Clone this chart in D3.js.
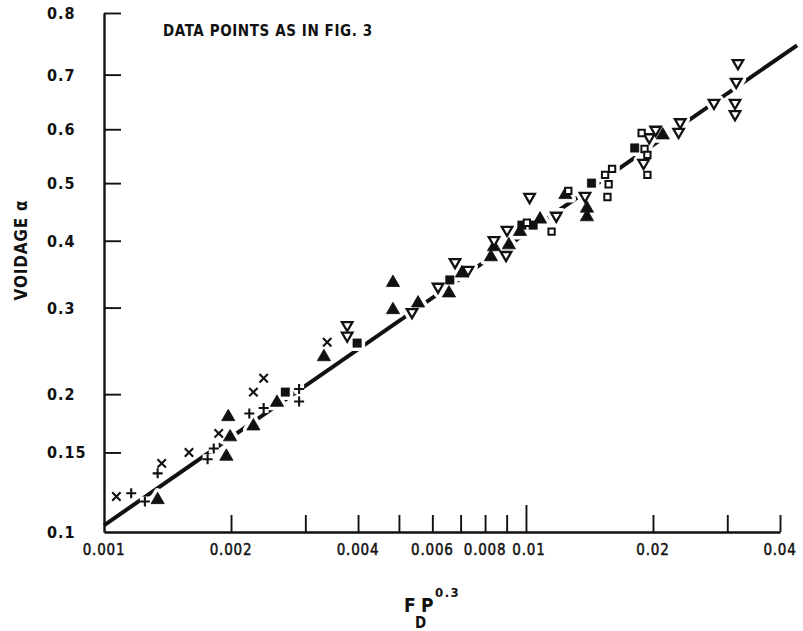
<!DOCTYPE html>
<html>
<head>
<meta charset="utf-8">
<script src="https://cdn.jsdelivr.net/npm/d3@7"></script>
<style>
  html, body { margin: 0; padding: 0; background: #fff; }
  svg { display: block; }
  text { fill: #111; font-family: "DejaVu Sans Condensed", "DejaVu Sans", sans-serif; }
</style>
</head>
<body>
<svg id="chart" width="803" height="631"></svg>
<script>
// ---------------- data ----------------
const crossX = [0.00107, 0.00137, 0.00159, 0.00187, 0.00226, 0.00239, 0.00338];
const crossY = [0.120, 0.142, 0.150, 0.165, 0.202, 0.216, 0.256];

const plusX = [0.00116, 0.00125, 0.00134, 0.00176, 0.00182, 0.00221, 0.00239, 0.0029, 0.0029];
const plusY = [0.122, 0.117, 0.135, 0.145, 0.153, 0.182, 0.187, 0.205, 0.193];

const triX = [0.00134, 0.00195, 0.00199, 0.00197, 0.00226, 0.00257, 0.00332, 0.00484, 0.00484, 0.00555,
              0.00657, 0.00705, 0.00826, 0.0084, 0.00911, 0.00968, 0.0108, 0.0124, 0.01395, 0.01395, 0.0211];
const triY = [0.118, 0.147, 0.162, 0.179, 0.171, 0.192, 0.239, 0.335, 0.297, 0.306,
              0.320, 0.349, 0.374, 0.390, 0.393, 0.415, 0.436, 0.479, 0.455, 0.440, 0.589];

const sqX = [0.00269, 0.00398, 0.0066, 0.00978, 0.0104, 0.0143, 0.0181];
const sqY = [0.202, 0.255, 0.339, 0.426, 0.426, 0.500, 0.565];

const invTriX = [0.00377, 0.00377, 0.00537, 0.00619, 0.00679, 0.00729, 0.0084, 0.00897, 0.00902, 0.0102, 0.0118,
                 0.0138, 0.0190, 0.0196, 0.0203, 0.0232, 0.0230, 0.0279, 0.0313, 0.0313, 0.0315, 0.0318];
const invTriY = [0.277, 0.264, 0.294, 0.329, 0.366, 0.354, 0.401, 0.377, 0.418, 0.475, 0.442,
                 0.477, 0.537, 0.585, 0.599, 0.613, 0.595, 0.649, 0.649, 0.628, 0.687, 0.720];

const openSqX = [0.01005, 0.0115, 0.0126, 0.0154, 0.0160, 0.0157, 0.0156, 0.0188, 0.0191, 0.0194, 0.0194];
const openSqY = [0.430, 0.415, 0.486, 0.515, 0.526, 0.498, 0.475, 0.593, 0.563, 0.552, 0.515];

// correlation line (two ends)
const lineX = [0.001, 0.0439];
const lineY = [0.1035, 0.75];

// axes
const xTickValues = [0.002, 0.003, 0.004, 0.005, 0.006, 0.007, 0.008, 0.009, 0.01, 0.02, 0.03, 0.04];
const xLabelValues = [0.001, 0.002, 0.004, 0.006, 0.008, 0.01, 0.02, 0.04];
const xLabelTexts = ["0.001", "0.002", "0.004", "0.006", "0.008", "0.01", "0.02", "0.04"];
const yTickValues = [0.15, 0.2, 0.3, 0.4, 0.5, 0.6, 0.7, 0.8];
const yLabelValues = [0.1, 0.15, 0.2, 0.3, 0.4, 0.5, 0.6, 0.7, 0.8];
const yLabelTexts = ["0.1", "0.15", "0.2", "0.3", "0.4", "0.5", "0.6", "0.7", "0.8"];

// ---------------- scales ----------------
const svg = d3.select("#chart");
const ink = "#111";

const x = d3.scaleLog().domain([0.001, 0.04]).range([104, 780]);
// voidage axis: linear in ln(a / sqrt(1 - a))
const gT = a => Math.log(a) - 0.5 * Math.log(1 - a);
const yLin = d3.scaleLinear().domain([gT(0.1), gT(0.8)]).range([532, 13]);
const y = a => yLin(gT(a));

// ---------------- axes ----------------
const xAxis = d3.axisTop(x).tickValues(xTickValues).tickSize(17).tickSizeOuter(0).tickFormat("");
const gx = svg.append("g").attr("transform", "translate(0,532)").call(xAxis);
gx.select(".domain").attr("stroke", ink).attr("stroke-width", 2.4);
gx.selectAll(".tick line").attr("stroke", ink).attr("stroke-width", 1.9)
  .attr("y2", d => d === 0.01 ? -27 : -17);

const yAxis = d3.axisRight(yLin).tickValues(yTickValues.map(gT)).tickSize(17).tickSizeOuter(0).tickFormat("");
const gy = svg.append("g").attr("transform", "translate(104,0)").call(yAxis);
gy.select(".domain").attr("stroke", ink).attr("stroke-width", 2.4);
gy.selectAll(".tick line").attr("stroke", ink).attr("stroke-width", 1.9);

svg.append("g").selectAll("text").data(xLabelValues).join("text")
  .attr("x", d => x(d) + (d === 0.01 ? 3 : 0)).attr("y", 555)
  .attr("text-anchor", "middle")
  .style("font-size", "15px").style("letter-spacing", "0.8px")
  .attr("stroke", ink).attr("stroke-width", 0.45)
  .text((d, i) => xLabelTexts[i]);

svg.append("g").selectAll("text").data(yLabelValues).join("text")
  .attr("x", 47).attr("y", d => y(d) + 6)
  .attr("text-anchor", "start")
  .style("font-size", "16px").style("font-weight", "bold").style("letter-spacing", "1px")
  .text((d, i) => yLabelTexts[i]);

// axis titles
svg.append("text").attr("transform", "translate(27,250) rotate(-90)")
  .attr("text-anchor", "middle").style("font-size", "17px").style("font-weight", "bold")
  .style("letter-spacing", "0.8px")
  .text("VOIDAGE \u03b1");

const xt = svg.append("g").style("font-weight", "bold");
xt.append("text").attr("x", 404).attr("y", 612).style("font-size", "19px").text("F");
xt.append("text").attr("x", 415).attr("y", 628).style("font-size", "15px").text("D");
xt.append("text").attr("x", 421).attr("y", 612).style("font-size", "19px").text("P");
xt.append("text").attr("x", 435).attr("y", 597).style("font-size", "13px").style("letter-spacing", "1.5px").text("0.3");

svg.append("text").attr("x", 163).attr("y", 36)
  .style("font-size", "15px").style("font-weight", "bold").style("letter-spacing", "0.6px")
  .text("DATA POINTS AS IN FIG. 3");

// ---------------- correlation line ----------------
const lineData = lineX.map((v, i) => [v, lineY[i]]);
svg.append("path")
  .attr("d", d3.line().x(d => x(d[0])).y(d => y(d[1]))(lineData))
  .attr("fill", "none").attr("stroke", ink).attr("stroke-width", 4)
  .attr("stroke-linecap", "butt");

// ---------------- markers ----------------
function plusPath(r) { const p = d3.path(); p.moveTo(-r, 0); p.lineTo(r, 0); p.moveTo(0, -r); p.lineTo(0, r); return p.toString(); }
function timesPath(r) { const p = d3.path(); p.moveTo(-r, -r); p.lineTo(r, r); p.moveTo(-r, r); p.lineTo(r, -r); return p.toString(); }

const series = [
  { xs: crossX, ys: crossY, d: timesPath(4.2), fill: "none", stroke: ink, sw: 2.1, rot: 0 },
  { xs: plusX, ys: plusY, d: plusPath(5), fill: "none", stroke: ink, sw: 2.1, rot: 0 },
  { xs: triX, ys: triY, d: d3.symbol().type(d3.symbolTriangle).size(76)(), fill: ink, stroke: ink, sw: 0.8, rot: 0 },
  { xs: sqX, ys: sqY, d: d3.symbol().type(d3.symbolSquare).size(72)(), fill: ink, stroke: ink, sw: 0.5, rot: 0 },
  { xs: invTriX, ys: invTriY, d: d3.symbol().type(d3.symbolTriangle).size(48)(), fill: "#fff", stroke: ink, sw: 2.3, rot: 180 },
  { xs: openSqX, ys: openSqY, d: d3.symbol().type(d3.symbolSquare).size(40)(), fill: "#fff", stroke: ink, sw: 2, rot: 0 }
];

const pts = [];
series.forEach(s => s.xs.forEach((v, i) => pts.push({ s, xv: v, yv: s.ys[i] })));
const tf = p => `translate(${x(p.xv)},${y(p.yv)}) rotate(${p.s.rot})`;

// white halos break the line around each point
svg.append("g").selectAll("path").data(pts).join("path")
  .attr("d", p => p.s.d).attr("transform", tf)
  .attr("fill", "#fff").attr("stroke", "#fff").attr("stroke-width", p => p.s.sw + 7)
  .attr("stroke-linejoin", "round");

svg.append("g").selectAll("path").data(pts).join("path")
  .attr("d", p => p.s.d).attr("transform", tf)
  .attr("fill", p => p.s.fill).attr("stroke", p => p.s.stroke).attr("stroke-width", p => p.s.sw)
  .attr("stroke-linejoin", "miter");
</script>
</body>
</html>
